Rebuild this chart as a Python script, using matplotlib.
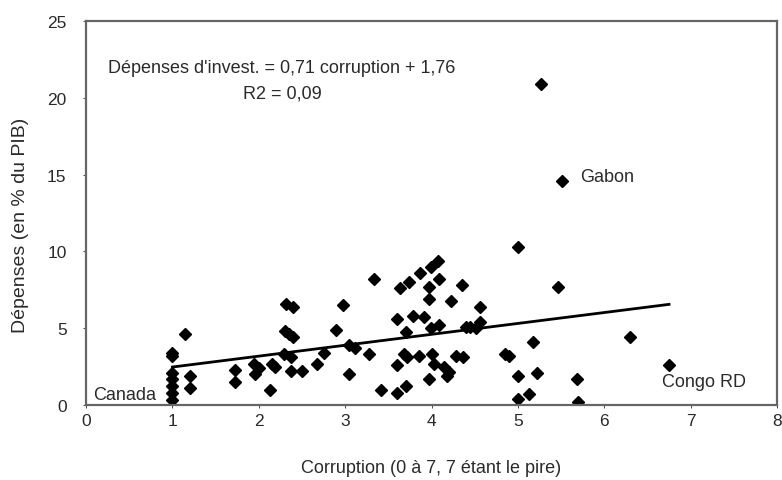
import matplotlib.pyplot as plt
import numpy as np

plt.rcParams['font.family'] = ['Liberation Sans', 'DejaVu Sans']

# Corruption index (x) and investment spending in % of GDP (y)
corruption = [
    1.0, 1.0, 1.0, 1.0, 1.0, 1.0, 1.0, 1.15, 1.2, 1.2,
    1.72, 1.73, 1.95, 2.0, 1.96, 2.13, 2.15, 2.19,
    2.29, 2.37, 2.37, 2.5, 2.67, 2.75, 2.32, 2.4, 2.3, 2.35, 2.4,
    2.89, 2.98, 3.04, 3.11, 3.04, 3.28, 3.33,
    3.41, 3.6, 3.7, 3.6, 3.68, 3.72, 3.6, 3.78, 3.91, 3.70,
    3.64, 3.74, 3.87, 3.99, 4.07, 3.97, 4.09, 3.97, 4.22, 4.35,
    3.99, 4.09, 3.86, 4.01, 4.03, 4.15, 4.2, 4.18, 4.28, 4.37, 3.97,
    4.44, 4.51, 4.56, 4.56, 4.40,
    4.85, 4.9, 5.0, 5.0, 5.13, 5.0, 5.18, 5.22, 5.27, 5.47, 5.51,
    5.68, 5.70, 6.30, 6.75,
]
spending = [
    3.4, 3.2, 2.1, 1.7, 1.25, 0.8, 0.3, 4.6, 1.9, 1.1,
    2.3, 1.5, 2.7, 2.4, 2.0, 1.0, 2.7, 2.5,
    3.3, 3.1, 2.2, 2.2, 2.7, 3.4, 6.6, 6.4, 4.8, 4.6, 4.4,
    4.9, 6.5, 3.9, 3.7, 2.0, 3.3, 8.2,
    0.95, 0.8, 1.25, 2.6, 3.3, 3.1, 5.6, 5.8, 5.7, 4.75,
    7.6, 8.0, 8.6, 9.0, 9.4, 7.7, 8.2, 6.9, 6.8, 7.8,
    5.0, 5.2, 3.2, 3.3, 2.7, 2.5, 2.15, 1.9, 3.2, 3.1, 1.7,
    5.1, 5.0, 5.4, 6.4, 5.1,
    3.3, 3.2, 10.3, 1.9, 0.7, 0.4, 4.1, 2.1, 20.9, 7.7, 14.6,
    1.7, 0.2, 4.4, 2.6,
]

slope, intercept = 0.71, 1.76
x_ticks = list(range(0, 9))
y_ticks = [0, 5, 10, 15, 20, 25]

text_color = '#2a2a2a'

fig = plt.figure(figsize=(7.82, 4.81), dpi=100)
ax = fig.add_axes([0.11, 0.156, 0.8836, 0.798])

ax.plot(corruption, spending, linestyle='none', marker='D', markersize=5.8,
        color='black')

# Trend line over the data range
x_line = np.array([min(corruption), max(corruption)])
ax.plot(x_line, slope * x_line + intercept, color='black', linewidth=2)

ax.set_xlim(0, 8)
ax.set_ylim(0, 25)
ax.set_xticks(x_ticks)
ax.set_yticks(y_ticks)
ax.tick_params(axis='both', labelsize=12.5, colors=text_color, length=2,
               width=0.6)
ax.tick_params(axis='x', pad=4)
ax.tick_params(axis='y', pad=12)
for spine in ax.spines.values():
    spine.set_color('#666666')
    spine.set_linewidth(1.6)

ax.set_xlabel('Corruption (0 à 7, 7 étant le pire)', fontsize=13,
              color=text_color, labelpad=22)
ax.set_ylabel('Dépenses (en % du PIB)', fontsize=14, color=text_color)
ax.yaxis.set_label_coords(-0.082, 0.47)

ax.text(2.27, 22.0, "Dépenses d'invest. = 0,71 corruption + 1,76",
        ha='center', va='center', fontsize=13, color=text_color)
ax.text(2.27, 20.3, 'R2 = 0,09', ha='center', va='center', fontsize=13,
        color=text_color)
ax.text(0.08, 0.65, 'Canada', ha='left', va='center', fontsize=13,
        color=text_color)
ax.text(6.67, 1.5, 'Congo RD', ha='left', va='center', fontsize=13,
        color=text_color)
ax.text(5.72, 14.9, 'Gabon', ha='left', va='center', fontsize=13,
        color=text_color)

fig.savefig('out.png', dpi=100)
